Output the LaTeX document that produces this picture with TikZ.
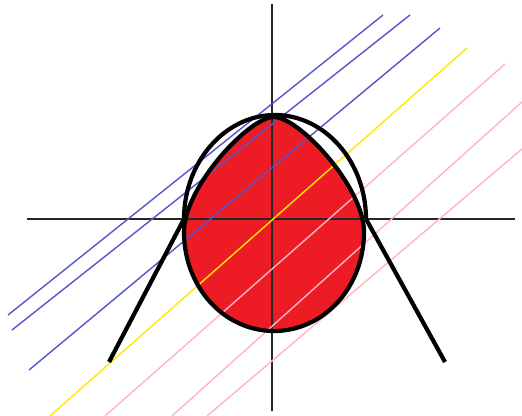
\documentclass[tikz,border=0pt]{standalone}
\usepackage{tikz}
\usepackage{xcolor}

\definecolor{eggred}{RGB}{237,28,36}
\definecolor{lineblue}{RGB}{85,85,205}
\definecolor{lineyellow}{RGB}{255,232,0}
\definecolor{linepink}{RGB}{255,180,198}

%% egg outline, in pixel units
\newcommand{\eggcurve}{(364,232) .. controls (364,187) and (299,117) .. (274,117)
    .. controls (249,117) and (184,187) .. (184,232)
    .. controls (184,287) and (224,331) .. (274,331)
    .. controls (324,331) and (364,287) .. (364,232) -- cycle}

\begin{document}
\begin{tikzpicture}[
    x=0.02cm, y=-0.02cm,
    axisln/.style   = {draw=black!85, line width=1.1pt},
    outline/.style  = {draw=black, line width=2.4pt, line join=round},
    blueln/.style   = {draw=lineblue, line width=0.8pt},
    yellowln/.style = {draw=lineyellow, line width=0.8pt},
    pinkln/.style   = {draw=linepink, line width=0.8pt}
]
\useasboundingbox (0,0) rectangle (522,416);

%% ---- egg fill ----
\fill[eggred] \eggcurve;

%% ---- axes ----
\coordinate (xleft)   at (27,219);
\coordinate (xright)  at (515,219);
\coordinate (ytop)    at (272,4);
\coordinate (ybottom) at (272,411);
\draw[axisln] (xleft) -- (xright);
\draw[axisln] (ytop) -- (ybottom);

%% =============================================
%% SLANTED LINES
%% =============================================
\draw[blueln]   (383,15)  -- (8,315);
\draw[blueln]   (410,15)  -- (12,330);
\draw[blueln]   (440,28)  -- (29,370);
\draw[yellowln] (467,48)  -- (50,416);
\draw[pinkln]   (505,64)  -- (105,416);
\draw[pinkln]   (522,102) -- (172,416);
\draw[pinkln]   (522,149) -- (207,416);

%% =============================================
%% OUTLINES
%% =============================================
\draw[outline] \eggcurve;

%% arch: straight legs, elliptic top
\draw[outline] (109,362) -- (184,219)
    .. controls (184,162) and (225,115) .. (275,115)
    .. controls (325,115) and (366,162) .. (366,219)
    -- (445,362);

\end{tikzpicture}
\end{document}
